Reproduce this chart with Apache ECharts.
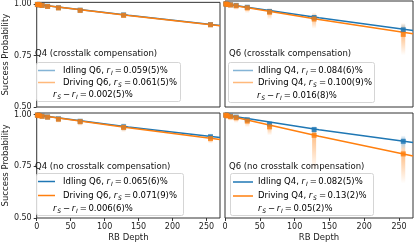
<!DOCTYPE html>
<html><head><meta charset="utf-8">
<script src="https://cdn.jsdelivr.net/npm/echarts@6/dist/echarts.min.js"></script>
<style>html,body{margin:0;padding:0;background:#fff}#c{width:415px;height:243px}</style>
</head><body><div id="c"></div>
<script>
// ---- data ----
const depths = [1, 2, 4, 8, 16, 32, 64, 128, 256];
const fitX = [0, 135, 270];
const xTicks = [0, 50, 100, 150, 200, 250];
const yTicks = [0.5, 0.75, 1.0];

// Panel 1: Q4 (crosstalk compensation)
const p1BlueY  = [0.998, 0.997, 0.996, 0.993, 0.989, 0.982, 0.970, 0.947, 0.900];
const p1OrangeY= [0.998, 0.997, 0.996, 0.993, 0.988, 0.981, 0.969, 0.945, 0.899];
const p1BlueLo = [0.990, 0.990, 0.988, 0.985, 0.980, 0.970, 0.955, 0.932, 0.888];
const p1BlueHi = [1.000, 1.000, 1.000, 1.000, 0.996, 0.990, 0.982, 0.960, 0.910];
const p1OrangeLo=[0.990, 0.990, 0.988, 0.984, 0.978, 0.968, 0.953, 0.930, 0.886];
const p1OrangeHi=[1.000, 1.000, 1.000, 1.000, 0.996, 0.990, 0.982, 0.958, 0.910];
const p1BlueFit = [0.997, 0.945, 0.896];
const p1OrangeFit=[0.997, 0.944, 0.894];

// Panel 2: Q6 (crosstalk compensation)
const p2BlueY  = [0.994, 0.993, 0.992, 0.990, 0.987, 0.978, 0.958, 0.929, 0.870];
const p2OrangeY= [0.994, 0.993, 0.991, 0.989, 0.985, 0.975, 0.954, 0.922, 0.848];
const p2BlueLo = [0.988, 0.988, 0.985, 0.980, 0.975, 0.965, 0.945, 0.905, 0.833];
const p2BlueHi = [1.000, 1.000, 1.000, 0.998, 0.995, 0.990, 0.970, 0.945, 0.900];
const p2OrangeLo=[0.985, 0.985, 0.980, 0.975, 0.965, 0.950, 0.920, 0.875, 0.748];
const p2OrangeHi=[1.000, 1.000, 1.000, 1.000, 0.998, 0.990, 0.975, 0.954, 0.906];
const p2BlueFit = [0.994, 0.928, 0.867];
const p2OrangeFit=[0.994, 0.919, 0.851];

// Panel 3: Q4 (no crosstalk compensation)
const p3BlueY  = [0.998, 0.997, 0.996, 0.993, 0.989, 0.980, 0.968, 0.941, 0.893];
const p3OrangeY= [0.998, 0.997, 0.995, 0.992, 0.988, 0.978, 0.966, 0.938, 0.884];
const p3BlueLo = [0.990, 0.990, 0.985, 0.980, 0.975, 0.965, 0.950, 0.920, 0.875];
const p3BlueHi = [1.000, 1.000, 1.000, 1.000, 0.998, 0.990, 0.980, 0.960, 0.910];
const p3OrangeLo=[0.990, 0.990, 0.985, 0.980, 0.972, 0.960, 0.945, 0.915, 0.860];
const p3OrangeHi=[1.000, 1.000, 1.000, 1.000, 0.998, 0.990, 0.982, 0.958, 0.905];
const p3BlueFit = [0.998, 0.940, 0.890];
const p3OrangeFit=[0.998, 0.937, 0.880];

// Panel 4: Q6 (no crosstalk compensation)
const p4BlueY  = [0.998, 0.997, 0.996, 0.993, 0.988, 0.975, 0.954, 0.928, 0.871];
const p4OrangeY= [0.998, 0.996, 0.994, 0.990, 0.985, 0.969, 0.941, 0.900, 0.810];
const p4BlueLo = [0.990, 0.990, 0.985, 0.980, 0.975, 0.960, 0.940, 0.900, 0.830];
const p4BlueHi = [1.000, 1.000, 1.000, 1.000, 0.995, 0.985, 0.965, 0.945, 0.900];
const p4OrangeLo=[0.985, 0.985, 0.980, 0.970, 0.960, 0.940, 0.900, 0.731, 0.667];
const p4OrangeHi=[1.000, 1.000, 1.000, 1.000, 0.998, 0.990, 0.965, 0.925, 0.861];
const p4BlueFit = [0.998, 0.927, 0.865];
const p4OrangeFit=[0.998, 0.895, 0.800];

const titles = ['Q4 (crosstalk compensation)', 'Q6 (crosstalk compensation)',
                'Q4 (no crosstalk compensation)', 'Q6 (no crosstalk compensation)'];
const idleNames = ['Idling Q6, ', 'Idling Q4, ', 'Idling Q6, ', 'Idling Q4, '];
const driveNames = ['Driving Q6, ', 'Driving Q4, ', 'Driving Q6, ', 'Driving Q4, '];
const rI = ['0.059(5)%', '0.084(6)%', '0.065(6)%', '0.082(5)%'];
const rS = ['0.061(5)%', '0.100(9)%', '0.071(9)%', '0.13(2)%'];
const rDiff = ['0.002(5)%', '0.016(8)%', '0.006(6)%', '0.05(2)%'];

const panels = [
  {y:p1BlueY, yo:p1OrangeY, bl:p1BlueLo, bh:p1BlueHi, ol:p1OrangeLo, oh:p1OrangeHi, bf:p1BlueFit, of:p1OrangeFit},
  {y:p2BlueY, yo:p2OrangeY, bl:p2BlueLo, bh:p2BlueHi, ol:p2OrangeLo, oh:p2OrangeHi, bf:p2BlueFit, of:p2OrangeFit},
  {y:p3BlueY, yo:p3OrangeY, bl:p3BlueLo, bh:p3BlueHi, ol:p3OrangeLo, oh:p3OrangeHi, bf:p3BlueFit, of:p3OrangeFit},
  {y:p4BlueY, yo:p4OrangeY, bl:p4BlueLo, bh:p4BlueHi, ol:p4OrangeLo, oh:p4OrangeHi, bf:p4BlueFit, of:p4OrangeFit}
];

// ---- chart ----
const BLUE = '#1f77b4', ORANGE = '#ff7f0e';
const FONT = 'DejaVu Sans';
const chart = echarts.init(document.getElementById('c'), null, {renderer: 'canvas'});

const gridsPos = [
  {left: 31, top: 1, width: 189, height: 106},
  {left: 225, top: 1, width: 188, height: 106},
  {left: 31, top: 113, width: 189, height: 105},
  {left: 225, top: 113, width: 188, height: 105}
];
const grids = gridsPos.map(g => Object.assign({show: true, borderColor: '#333', borderWidth: 1, backgroundColor: 'transparent'}, g));

const xAxes = gridsPos.map((g, i) => ({
  type: 'value', gridIndex: i, min: 0, max: 270,
  axisLine: {show: false},
  splitLine: {show: false},
  axisTick: {show: i >= 2, length: 3, customValues: xTicks, lineStyle: {color: '#333'}},
  axisLabel: {show: i >= 2, customValues: xTicks, margin: 5, fontSize: 8, fontFamily: FONT, color: '#222'},
  name: i >= 2 ? 'RB Depth' : '', nameLocation: 'middle', nameGap: 15,
  nameTextStyle: {fontSize: 8.5, fontFamily: FONT, color: '#222'}
}));
const yAxes = gridsPos.map((g, i) => ({
  type: 'value', gridIndex: i, min: 0.5, max: 1.008,
  axisLine: {show: false},
  splitLine: {show: false},
  axisTick: {show: i % 2 === 0, length: 3, customValues: yTicks, lineStyle: {color: '#333'}},
  axisLabel: {show: i % 2 === 0, customValues: yTicks, margin: 5, fontSize: 8, fontFamily: FONT, color: '#222',
              formatter: v => v.toFixed(2)},
  name: i % 2 === 0 ? 'Success Probability' : '', nameLocation: 'middle', nameGap: 17,
  nameTextStyle: {fontSize: 8.5, fontFamily: FONT, color: '#222'}
}));

function smearSeries(i, lo, hi, mid, color) {
  const data = depths.map((d, k) => [d, lo[k], hi[k], mid[k]]);
  return {
    type: 'custom', xAxisIndex: i, yAxisIndex: i, clip: true, z: 1,
    data: data,
    encode: {x: 0, y: [1, 2]},
    renderItem: function (params, api) {
      const x = api.value(0);
      const pLo = api.coord([x, api.value(1)]);
      const pHi = api.coord([x, api.value(2)]);
      const pMid = api.coord([x, api.value(3)]);
      const h = Math.max(pLo[1] - pHi[1], 1);
      const off = Math.min(Math.max((pMid[1] - pHi[1]) / h, 0.01), 0.99);
      const rgb = echarts.color.parse(color);
      const c = a => 'rgba(' + rgb[0] + ',' + rgb[1] + ',' + rgb[2] + ',' + a + ')';
      return {
        type: 'rect',
        shape: {x: pHi[0] - 2, y: pHi[1], width: 4, height: h},
        style: {
          fill: new echarts.graphic.LinearGradient(0, 0, 0, 1, [
            {offset: 0, color: c(0)},
            {offset: off, color: c(0.5)},
            {offset: 1, color: c(0)}
          ])
        }
      };
    }
  };
}

const series = [];
panels.forEach((p, i) => {
  series.push(smearSeries(i, p.bl, p.bh, p.y, BLUE));
  series.push(smearSeries(i, p.ol, p.oh, p.yo, ORANGE));
  series.push({type: 'line', xAxisIndex: i, yAxisIndex: i, z: 2, showSymbol: false, silent: true,
    data: fitX.map((x, k) => [x, p.bf[k]]), lineStyle: {color: BLUE, width: 1.5}, clip: true});
  series.push({type: 'line', xAxisIndex: i, yAxisIndex: i, z: 2, showSymbol: false, silent: true,
    data: fitX.map((x, k) => [x, p.of[k]]), lineStyle: {color: ORANGE, width: 1.5}, clip: true});
  series.push({type: 'scatter', xAxisIndex: i, yAxisIndex: i, z: 3, symbol: 'rect', symbolSize: 5,
    data: depths.map((d, k) => [d, p.y[k]]), itemStyle: {color: BLUE}, clip: true});
  series.push({type: 'scatter', xAxisIndex: i, yAxisIndex: i, z: 3, symbol: 'rect', symbolSize: 5,
    data: depths.map((d, k) => [d, p.yo[k]]), itemStyle: {color: ORANGE}, clip: true});
});

// ---- legends (graphic) ----
const FS = 8.5;
const rich = {
  t: {fontSize: FS, fontFamily: FONT, color: '#111', lineHeight: 11, verticalAlign: 'middle'},
  e: {fontSize: FS, fontFamily: FONT, color: '#111', lineHeight: 11, verticalAlign: 'middle', padding: [0, 1.5, 0, 1.5]},
  i: {fontSize: FS, fontFamily: FONT, fontStyle: 'italic', color: '#111', lineHeight: 11, verticalAlign: 'middle'},
  s: {fontSize: 6, fontFamily: FONT, fontStyle: 'italic', color: '#111', lineHeight: 11, verticalAlign: 'bottom', padding: [0, 0.5, 0, 0.8]}
};
const legendPos = [
  {tx: 35, ty: 54, bx: 36, by: 62, bw: 144, bh: 39, lx: 38, lx2: 55, tx2: 63, rx: 53, rows: [70.5, 82.5, 95], alpha: 0.55},
  {tx: 229, ty: 54, bx: 228, by: 62, bw: 146, bh: 40, lx: 233, lx2: 253, tx2: 258, rx: 257, rows: [70.5, 82.5, 95.5], alpha: 0.55},
  {tx: 35, ty: 167, bx: 36, by: 173, bw: 147, bh: 42, lx: 38, lx2: 55, tx2: 63, rx: 53, rows: [181.5, 195.5, 208.5], alpha: 1},
  {tx: 229, ty: 167, bx: 230, by: 173, bw: 143, bh: 42, lx: 233, lx2: 253, tx2: 258, rx: 258, rows: [182, 196, 208.5], alpha: 1}
];
const graphics = [];
legendPos.forEach((L, i) => {
  graphics.push({type: 'text', x: L.tx, y: L.ty, z: 10,
    style: {text: titles[i], fontSize: FS, fontFamily: FONT, fill: '#111', verticalAlign: 'middle'}});
  graphics.push({type: 'rect', shape: {x: L.bx + 0.5, y: L.by + 0.5, width: L.bw, height: L.bh, r: 2}, z: 9,
    style: {fill: 'rgba(255,255,255,0.8)', stroke: '#d5d5d5', lineWidth: 1}});
  graphics.push({type: 'line', shape: {x1: L.lx, y1: L.rows[0], x2: L.lx2, y2: L.rows[0]}, z: 10,
    style: {stroke: BLUE, lineWidth: 1.5, opacity: L.alpha}});
  graphics.push({type: 'line', shape: {x1: L.lx, y1: L.rows[1], x2: L.lx2, y2: L.rows[1]}, z: 10,
    style: {stroke: ORANGE, lineWidth: 1.5, opacity: L.alpha}});
  graphics.push({type: 'text', x: L.tx2, y: L.rows[0], z: 10,
    style: {text: '{t|' + idleNames[i] + '}{i|r}{s|I}{e|=}{t|' + rI[i] + '}', rich: rich, verticalAlign: 'middle'}});
  graphics.push({type: 'text', x: L.tx2, y: L.rows[1], z: 10,
    style: {text: '{t|' + driveNames[i] + '}{i|r}{s|S}{e|=}{t|' + rS[i] + '}', rich: rich, verticalAlign: 'middle'}});
  graphics.push({type: 'text', x: L.rx, y: L.rows[2], z: 10,
    style: {text: '{i|r}{s|S}{e|−}{i|r}{s|I}{e|=}{t|' + rDiff[i] + '}', rich: rich, verticalAlign: 'middle'}});
});

chart.setOption({
  animation: false,
  backgroundColor: '#fff',
  grid: grids,
  xAxis: xAxes,
  yAxis: yAxes,
  series: series,
  graphic: graphics
});
</script>
</body></html>
